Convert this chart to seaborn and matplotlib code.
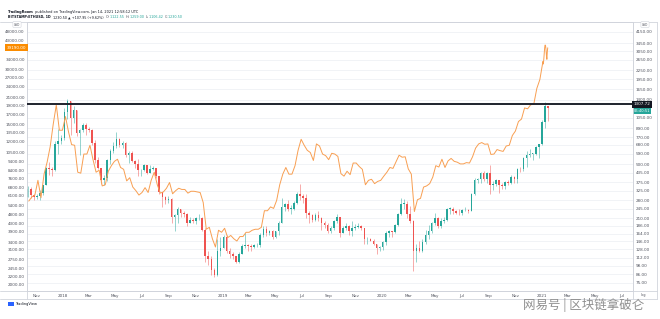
import numpy as np
import pandas as pd
import matplotlib
matplotlib.use("Agg")
import matplotlib.pyplot as plt
import matplotlib.dates as mdates
import matplotlib.transforms as mtrans
from matplotlib.lines import Line2D
from matplotlib.patches import Rectangle
from matplotlib.ticker import NullLocator
import seaborn as sns

# ---------------- data ----------------
# ETH/USD weekly candles (weeks starting Monday 2017-10-09 ... 2021-01-11)
eth_week_start = pd.date_range("2017-10-09", periods=171, freq="7D")
eth_first_open = 297.0
eth_close = [
    336, 305, 296, 300, 315, 355, 470, 465, 455, 690, 720, 755,
    1150, 1370, 1040, 1180, 820, 860, 940, 870, 860, 700, 530, 470, 385,
    400, 530, 620, 670, 750, 680, 705, 580, 600, 525, 500, 455, 455,
    490, 435, 460, 470, 410, 320, 295, 280, 285, 215, 220, 245, 230,
    225, 195, 205, 200, 210, 210, 175, 115, 110, 92, 85, 125, 130, 155,
    125, 118, 115, 105, 118, 135, 136, 135, 133, 137, 138, 160,
    178, 165, 170, 155, 170, 195, 250, 265, 245, 245, 270, 310, 300,
    290, 230, 220, 205, 220, 210, 195, 188, 170, 180, 200, 215, 165, 180,
    185, 170, 180, 183, 185, 180, 150, 150, 147, 140, 130, 132, 143,
    165, 170, 168, 190, 225, 265, 265, 225, 200, 125, 130, 125, 143,
    160, 170, 195, 210, 185, 200, 205, 245, 245, 235, 230, 227, 240,
    240, 235, 310, 385, 395, 430, 395, 430, 355, 365, 385, 355, 350,
    375, 370, 405, 395, 465, 460, 550, 575, 590, 590, 660, 685, 975,
    1260, 1230,
]
eth_high = [
    350, 345, 310, 310, 330, 360, 480, 520, 480, 720, 880, 800,
    1220, 1420, 1380, 1270, 1180, 880, 970, 960, 900, 870, 730, 560, 470,
    420, 540, 640, 710, 830, 760, 720, 710, 620, 620, 530, 540, 465,
    500, 490, 490, 485, 470, 410, 320, 300, 300, 290, 225, 250, 245,
    235, 230, 215, 210, 215, 225, 215, 180, 125, 115, 95, 150, 155, 160,
    160, 130, 122, 115, 122, 140, 165, 140, 140, 140, 142, 165,
    185, 185, 175, 173, 172, 200, 290, 270, 280, 260, 275, 320, 365,
    310, 310, 235, 225, 230, 235, 215, 200, 195, 185, 205, 225, 215, 185,
    195, 190, 200, 192, 195, 190, 180, 155, 152, 150, 140, 135, 145,
    170, 175, 172, 192, 228, 290, 285, 275, 255, 205, 140, 145, 150,
    175, 190, 198, 228, 215, 210, 215, 247, 250, 250, 240, 245, 242,
    250, 245, 315, 400, 400, 440, 445, 440, 490, 380, 395, 385, 370,
    380, 390, 420, 415, 470, 475, 560, 620, 635, 600, 670, 690, 1010,
    1350, 1275,
]
eth_low = [
    295, 290, 280, 285, 280, 305, 355, 420, 410, 450, 590, 690,
    740, 1030, 800, 960, 780, 575, 840, 800, 830, 680, 510, 460, 365,
    360, 380, 500, 600, 650, 660, 650, 560, 510, 515, 470, 410, 410,
    450, 425, 430, 455, 400, 310, 250, 265, 270, 195, 170, 195, 215,
    215, 185, 195, 195, 193, 205, 170, 105, 100, 85, 82, 84, 115, 130,
    120, 112, 110, 102, 102, 118, 130, 125, 125, 130, 133, 133,
    155, 158, 162, 150, 152, 160, 195, 235, 235, 225, 240, 265, 280,
    270, 210, 195, 198, 200, 200, 175, 180, 165, 165, 175, 195, 155, 165,
    175, 160, 158, 175, 180, 175, 140, 140, 145, 138, 118, 124, 126,
    136, 155, 155, 166, 185, 220, 245, 210, 195, 90, 105, 123, 123,
    140, 150, 165, 190, 180, 180, 195, 200, 225, 225, 225, 220, 223,
    235, 230, 235, 305, 370, 370, 380, 370, 310, 330, 350, 315, 335,
    335, 360, 365, 370, 370, 440, 445, 480, 560, 530, 575, 550, 680,
    890, 1000,
]

# BTC/USD weekly closes (week ending Sunday) through 2021-01-03, then daily closes
btc_week_close = [
    5700, 6000, 6150, 7400, 5950, 8000, 9300, 11300, 15000, 19100, 13900, 13900,
    16500, 13600, 11600, 11500, 8200, 8100, 10300, 10300, 11500, 9600, 8200, 8400, 6900,
    7000, 8300, 8900, 9400, 9650, 8700, 8500, 7350, 7650, 6800, 6500, 6150, 6350,
    6750, 6350, 7400, 8200, 7000, 6300, 6400, 6700, 7200, 6250, 6500, 6700, 6600,
    6600, 6300, 6450, 6450, 6400, 6350, 5600, 4000, 4100, 3550, 3200, 3950, 3850, 4050,
    3600, 3700, 3550, 3450, 3650, 3650, 3850, 3850, 3950, 4000, 4000, 4100,
    5050, 5050, 5300, 5200, 5750, 7000, 8000, 8700, 8000, 8000, 8900, 10800, 12400,
    11500, 10800, 10500, 9500, 11700, 11400, 10300, 10100, 9600, 10400, 10300, 10000, 8050, 7800,
    8300, 7950, 9200, 9200, 8800, 8500, 7000, 7400, 7500, 7100, 7300, 7400, 7800,
    8190, 8700, 8600, 9350, 10150, 9900, 9950, 8550, 8000, 5000, 5800, 5900, 6800,
    6900, 7100, 7700, 8900, 8750, 9650, 8700, 9450, 9750, 9400, 9300, 9100, 9100,
    9250, 9200, 9950, 11100, 11700, 11900, 11650, 11700, 10250, 10300, 10900, 10750, 10650,
    11400, 11500, 13000, 13750, 15500, 16000, 18400, 18200, 19150, 19250, 23500, 26300, 33000,
]
btc_daily_dates = pd.date_range("2021-01-04", "2021-01-14", freq="D")
btc_daily_close = [31970, 33990, 36820, 39370, 40600, 40250, 38360, 35570, 33920, 37320, 39190]

ath_level_btc = 19300          # horizontal black line
ath_label = "1307.72"
btc_last_label = "39190.00"
eth_last_label = "1230.50"
eth_countdown = "05:40:51"

x_tick_dates = pd.date_range("2017-11-01", "2021-07-01", freq="2MS")
x_tick_labels = ["Nov", "2018", "Mar", "May", "Jul", "Sep", "Nov", "2019", "Mar", "May",
                 "Jul", "Sep", "Nov", "2020", "Mar", "May", "Jul", "Sep", "Nov", "2021",
                 "Mar", "May", "Jul"]
btc_ticks = [48000, 43000, 34000, 30000, 27000, 24000, 21000, 19000, 17000, 15000,
             13500, 12000, 10500, 9400, 8400, 7600, 6800, 6100, 5400, 4800, 4300, 3900,
             3400, 3100, 2750, 2450, 2200, 2000]
eth_ticks = [4150, 3450, 3050, 2650, 2250, 1950, 1650, 1400, 1050, 890, 770, 680, 590,
             500, 435, 375, 325, 280, 245, 210, 186, 164, 146, 128, 112, 98, 86, 75]

header1 = [("TradingRoom", "bold"), (" published on TradingView.com, Jan 14, 2021 12:58:12 UTC", "normal")]
header2_symbol = "BITSTAMP:ETHUSD, 1D  "
header2_change = "1230.50 \u25b2 +107.95 (+9.62%)  "
header2_ohlc = [("O:", "1122.55"), ("H:", "1259.00"), ("L:", "1106.42"), ("C:", "1230.50")]
watermark = "网易号 | 区块链拿破仑"

# ---------------- style ----------------
sns.set_theme(style="white")
plt.rcParams["font.family"] = ["DejaVu Sans", "Noto Sans CJK SC"]

W, H = 660, 319
fig = plt.figure(figsize=(W / 100, H / 100), dpi=100)
fig.patch.set_facecolor("white")

L, R, T, B = 27, 633, 22, 291
ax = fig.add_axes([L / W, 1 - B / H, (R - L) / W, (B - T) / H])   # BTC (left scale)
axr = ax.twinx()                                                   # ETH (right scale)
ax.set_zorder(2)
ax.patch.set_visible(False)
axr.set_zorder(1)
axr.patch.set_facecolor("white")

TEAL, RED, ORANGE = "#26a69a", "#ef5350", "#f89f52"
GRID = "#eceff3"
FRAME = "#d1d4dc"
TXT = "#50535e"

# ---- candles on ETH axis ----
x_c = mdates.date2num(eth_week_start) + 3.5
o = np.array([eth_first_open] + eth_close[:-1], dtype=float)
c = np.array(eth_close, dtype=float)
h = np.array(eth_high, dtype=float)
l = np.array(eth_low, dtype=float)
up = c >= o
cols = np.where(up, TEAL, RED)
axr.set_yscale("log")
axr.vlines(x_c, l, h, colors=cols, linewidth=0.4, alpha=0.85, zorder=3)
axr.bar(x_c, np.maximum(np.abs(c - o), c * 0.006), bottom=np.minimum(o, c), width=3.6,
        color=cols, linewidth=0, zorder=4)

# ---- BTC line (seaborn) ----
btc_x = np.concatenate([mdates.date2num(eth_week_start[:len(btc_week_close)]) + 6,
                        mdates.date2num(btc_daily_dates)])
btc_y = np.array(btc_week_close + btc_daily_close, dtype=float)
btc_df = pd.DataFrame({"x": btc_x, "y": btc_y})
sns.lineplot(data=btc_df, x="x", y="y", ax=ax, color=ORANGE, linewidth=0.7,
             estimator=None, sort=False, zorder=5)
ax.set_yscale("log")
ax.axhline(ath_level_btc, color="#1e222d", linewidth=1.4, zorder=6)

# ---- scales ----
x_left = mdates.date2num(pd.Timestamp("2017-10-11"))
x_right = mdates.date2num(pd.Timestamp("2021-07-28"))
ax.set_xlim(x_left, x_right)
ax.set_ylim(1840, 54220)
axr.set_ylim(65.6, 4856)

ax.set_xticks(mdates.date2num(x_tick_dates))
ax.set_xticklabels(x_tick_labels)
ax.set_yticks(btc_ticks)
ax.set_yticklabels([f"{v:.2f}" for v in btc_ticks])
ax.yaxis.set_minor_locator(NullLocator())
axr.set_yticks(eth_ticks)
axr.set_yticklabels([f"{v:.2f}" for v in eth_ticks])
axr.yaxis.set_minor_locator(NullLocator())
ax.set_xlabel("")
ax.set_ylabel("")
axr.set_ylabel("")

ax.tick_params(axis="x", labelsize=3, length=0, pad=2.0, colors=TXT)
ax.tick_params(axis="y", labelsize=3, length=0, pad=1.6, colors=TXT)
axr.tick_params(axis="y", labelsize=3, length=0, pad=1.8, colors=TXT)

axr.grid(axis="y", color=GRID, linewidth=0.5)
axr.grid(axis="x", color=GRID, linewidth=0.5)
axr.set_axisbelow(True)
for a in (ax, axr):
    for s in a.spines.values():
        s.set_color(FRAME)
        s.set_linewidth(0.6)

# ---- price labels on scales ----
tl = mtrans.blended_transform_factory(ax.transAxes, ax.transData)
ax.text(-0.001, btc_daily_close[-1], btc_last_label, transform=tl, ha="right", va="center",
        fontsize=3, color="white", clip_on=False, zorder=20,
        bbox=dict(boxstyle="square,pad=0.35", fc="#fb8c00", ec="none"))
ax.text(1.001, ath_level_btc, ath_label, transform=tl, ha="left", va="center",
        fontsize=3, color="white", clip_on=False, zorder=20,
        bbox=dict(boxstyle="square,pad=0.35", fc="#131722", ec="none"))
tr = mtrans.blended_transform_factory(axr.transAxes, axr.transData)
axr.text(1.001, eth_close[-1] * 0.985, eth_last_label + "\n" + eth_countdown, transform=tr,
         ha="left", va="center", fontsize=2.6, color="white", clip_on=False, zorder=20,
         linespacing=1.0, bbox=dict(boxstyle="square,pad=0.3", fc=TEAL, ec="none"))

# ---- chrome around the chart ----
def fy(y):
    return 1 - y / H

for (x0, y0, x1, y1) in [(0, 22, 657, 22), (0, 299, 657, 299), (0, 291, 657, 291),
                         (L, 291, L, 299), (R, 291, R, 299), (657, 22, 657, 299)]:
    fig.add_artist(Line2D([x0 / W, x1 / W], [fy(y0), fy(y1)], color=FRAME, linewidth=0.6))

for xc in (17, 645):
    fig.text(xc / W, fy(24.5), "USD", fontsize=2.2, color=TXT, ha="center", va="center",
             bbox=dict(boxstyle="round,pad=0.3", fc="white", ec=FRAME, lw=0.4))
fig.text(643 / W, fy(295.3), "log", fontsize=2.5, color=TXT, ha="center", va="center")

renderer = fig.canvas.get_renderer()

def seq(x_px, y_px, parts, size):
    x = x_px
    for s, color, weight in parts:
        t = fig.text(x / W, fy(y_px), s, fontsize=size, color=color, weight=weight,
                     ha="left", va="center")
        x += t.get_window_extent(renderer=renderer).width

seq(8, 12.5, [(s, "#131722", w) for s, w in header1], 2.5)
parts2 = [(header2_symbol, "#131722", "bold"), (header2_change, "#131722", "normal")]
for k, v in header2_ohlc:
    parts2 += [(k, TXT, "normal"), (v + "  ", TEAL, "normal")]
seq(8, 17.2, parts2, 2.4)

fig.add_artist(Rectangle((8 / W, fy(305.5)), 6 / W, 4 / H, transform=fig.transFigure,
                         fc="#2962ff", ec="none"))
fig.text(15.5 / W, fy(303.5), "TradingView", fontsize=2.6, color="#131722",
         ha="left", va="center")

fig.text(523 / W, fy(304.5), watermark, fontsize=9, color="#8f8f8f", ha="left", va="center",
         family=["Noto Sans CJK SC", "DejaVu Sans"])

fig.savefig("out.png", dpi=100, facecolor="white")
